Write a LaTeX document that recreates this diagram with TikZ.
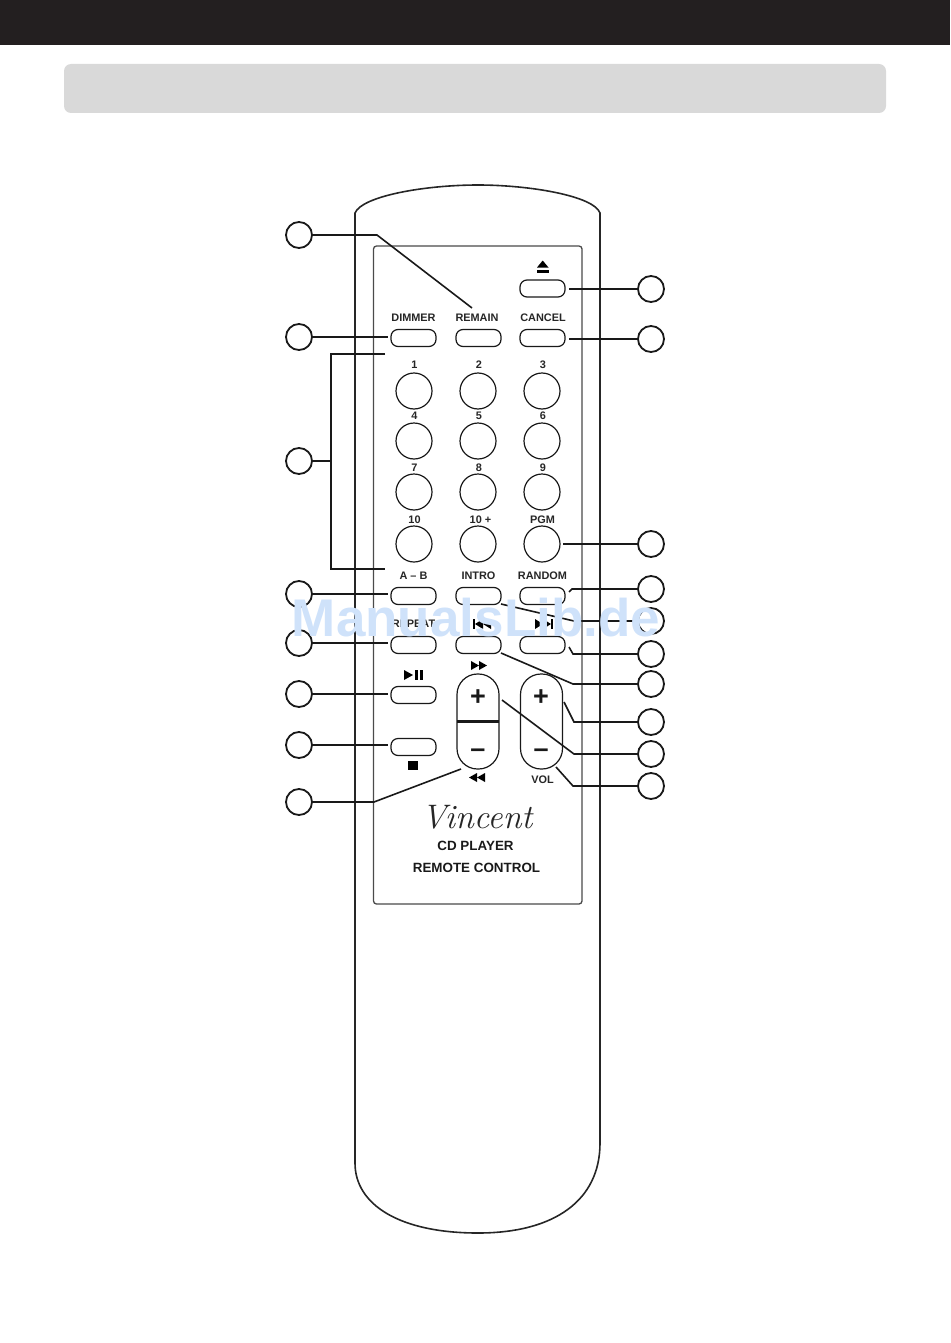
\documentclass[tikz,border=0pt]{standalone}
\usepackage{fontspec}
\setmainfont{Liberation Sans}
\definecolor{barblack}{HTML}{231F20}
\definecolor{bandgray}{HTML}{D9D9D9}
\definecolor{panelgray}{HTML}{4A4A4A}
\definecolor{markblue}{HTML}{CFE2FA}
\tikzset{
    callout/.style={draw=black!90,circle,line width=1.8pt,minimum size=26pt,inner sep=0pt,outer sep=0pt},
    leader/.style={draw=black!90,line width=1.6pt},
    keybox/.style={draw=black!90,rounded corners=7pt,line width=1.2pt,minimum width=45pt,minimum height=17pt,inner sep=0pt,outer sep=3.5pt},
    numkey/.style={draw=black!90,circle,line width=1.2pt,minimum size=36pt,inner sep=0pt,outer sep=3pt},
    pillkey/.style={draw=black!90,rounded corners=20.5pt,line width=1.2pt,minimum width=42pt,minimum height=95pt,inner sep=0pt,outer sep=0pt},
    keytext/.style={font=\fontsize{10.9}{12}\selectfont\bfseries,inner sep=0pt,text=black!85},
    signtext/.style={font=\fontsize{27}{27}\selectfont\bfseries,inner sep=0pt,text=black!90},
    brandtext/.style={font=\fontsize{13.4}{15}\selectfont\bfseries,inner sep=0pt,text=black!90},
}
\begin{document}
\begin{tikzpicture}[x=1pt,y=-1pt]
        \useasboundingbox (0,0) rectangle (950,1343);
        \fill[barblack] (0,0) rectangle (950,45);
        \fill[bandgray,rounded corners=7pt] (64,64) rectangle (886,113);

        % remote body
        \draw[line width=1.6pt,black!85] (355,213) .. controls (362,196) and (425,185) .. (478,185)
            .. controls (530,185) and (594,196) .. (600,213)
            -- (600,1143) .. controls (600,1200) and (555,1233) .. (478,1233)
            .. controls (400,1233) and (355,1205) .. (355,1163) -- cycle;
        \draw[line width=1.3pt,panelgray,rounded corners=3pt] (373.5,246) rectangle (582,904);

        % flat keys
        \foreach \name/\x/\y in {eject/542.5/288.5, dimmer/413.5/338, remain/478.5/338, cancel/542.5/338,
            ab/413.5/596, intro/478.5/596, random/542.5/596,
            repeat/413.5/645, prev/478.5/645, next/542.5/645,
            play/413.5/695, stop/413.5/747}{
            \node[keybox] (K-\name) at (\x,\y) {};
        }

        % number keys
        \foreach \name/\x/\y in {1/414/391, 2/478/391, 3/542/391, 4/414/441, 5/478/441, 6/542/441,
            7/414/492, 8/478/492, 9/542/492, 10/414/544, 11/478/544, 12/542/544}{
            \node[numkey] (N-\name) at (\x,\y) {};
        }

        % key labels
        \foreach \name/\x/\y/\label in {dimmer/413.5/318/DIMMER, remain/477/318/REMAIN, cancel/543/318/CANCEL,
            one/414.5/364.5/1, two/479/364.5/2, three/543/364.5/3,
            four/414.5/416/4, five/479/416/5, six/543/416/6,
            seven/414.5/468/7, eight/479/468/8, nine/543/468/9,
            ten/414.5/520/10, tenplus/480.5/520/10 +, pgm/542.5/520/PGM,
            ab/413.5/576/A -- B, intro/478.5/576/INTRO, random/542.5/576/RANDOM,
            repeat/413.5/624/REPEAT, vol/542.5/780/VOL}{
            \node[keytext] (T-\name) at (\x,\y) {\label};
        }

        % pills
        \node[pillkey] (P-ff) at (478,721.5) {};
        \node[pillkey] (P-vol) at (541.5,721.5) {};
        \draw[line width=2.4pt,black!90] (P-ff.west) -- (P-ff.east);
        \node[signtext] (S-ffplus) at (478,698) {+};
        \node[signtext] (S-ffminus) at (478,753) {--};
        \node[signtext] (S-volplus) at (541,698) {+};
        \node[signtext] (S-volminus) at (541,753) {--};

        % key symbols
        \fill (537,267.5) -- (548.5,267.5) -- (542.7,260.5) -- cycle;
        \fill (537,269.5) rectangle (548.5,272.5);
        \fill (404,670) -- (404,680) -- (413,675) -- cycle;
        \fill (415,670) rectangle (418,680);
        \fill (419.5,670) rectangle (422.5,680);
        \fill (408,760.5) rectangle (418,770);
        \fill (471,661) -- (471,670) -- (479,665.5) -- cycle;
        \fill (479,661) -- (479,670) -- (487,665.5) -- cycle;
        \fill (477,773) -- (477,782) -- (469,777.5) -- cycle;
        \fill (485,773) -- (485,782) -- (477,777.5) -- cycle;
        \fill (473,619) rectangle (475,629);
        \fill (483,619) -- (483,629) -- (475,624) -- cycle;
        \fill (491,619) -- (491,629) -- (483,624) -- cycle;
        \fill (535,619) -- (535,629) -- (543,624) -- cycle;
        \fill (543,619) -- (543,629) -- (551,624) -- cycle;
        \fill (551,619) rectangle (553,629);

        % brand
        \node[inner sep=0pt,font=\fontfamily{lmr}\fontsize{34}{34}\selectfont\itshape,text=black!85] (B-name) at (477,817) {Vincent};
        \node[brandtext] (B-cd) at (475.5,846) {CD PLAYER};
        \node[brandtext] (B-rc) at (476.5,868) {REMOTE CONTROL};

        % callouts
        \foreach \name/\y in {1/235, 2/337, 3/461, 4/594, 5/643, 6/694, 7/745, 8/802}{
            \node[callout] (L-\name) at (299,\y) {};
        }
        \foreach \name/\y in {1/289, 2/339, 3/544, 4/589, 5/621, 6/654, 7/684, 8/722, 9/754, 10/786}{
            \node[callout] (R-\name) at (651,\y) {};
        }

        % free ends
        \coordinate (E-remain) at (472,308);
        \coordinate (E-top) at (385,354);
        \coordinate (E-bot) at (385,569);
        \coordinate (E-rew) at (461,769);
        \coordinate (E-random) at (569,592);
        \coordinate (E-intro) at (501,604);
        \coordinate (E-next) at (569,647);
        \coordinate (E-prev) at (501,653);
        \coordinate (E-volp) at (564,702);
        \coordinate (E-ff) at (502,700);
        \coordinate (E-volm) at (556,767);

        % left side
        \draw[leader] (L-1.east) -- (377,235) -- (E-remain);
        \draw[leader] (L-2.east) -- (K-dimmer.west |- L-2.east);
        \draw[leader] (L-3.east) -- (331,461);
        \draw[leader] (E-top) -- (331,354) -- (331,569) -- (E-bot);
        \draw[leader] (L-4.east) -- (K-ab.west |- L-4.east);
        \draw[leader] (L-5.east) -- (K-repeat.west |- L-5.east);
        \draw[leader] (L-6.east) -- (K-play.west |- L-6.east);
        \draw[leader] (L-7.east) -- (K-stop.west |- L-7.east);
        \draw[leader] (L-8.east) -- (374,802) -- (E-rew);

        % right side
        \draw[leader] (R-1.west) -- (K-eject.east |- R-1.west);
        \draw[leader] (R-2.west) -- (K-cancel.east |- R-2.west);
        \draw[leader] (R-3.west) -- (N-12.east |- R-3.west);
        \draw[leader] (R-4.west) -- (572,589) -- (E-random);
        \draw[leader] (R-5.west) -- (574,621) -- (E-intro);
        \draw[leader] (R-6.west) -- (573,654) -- (E-next);
        \draw[leader] (R-7.west) -- (573,684) -- (E-prev);
        \draw[leader] (R-8.west) -- (574,722) -- (E-volp);
        \draw[leader] (R-9.west) -- (574,754) -- (E-ff);
        \draw[leader] (R-10.west) -- (573,786) -- (E-volm);

        % watermark
        \node[inner sep=0pt,text=markblue,font=\fontsize{53}{54}\selectfont\bfseries] (W-mark) at (476,618) {ManualsLib.de};
    \end{tikzpicture}
\end{document}
